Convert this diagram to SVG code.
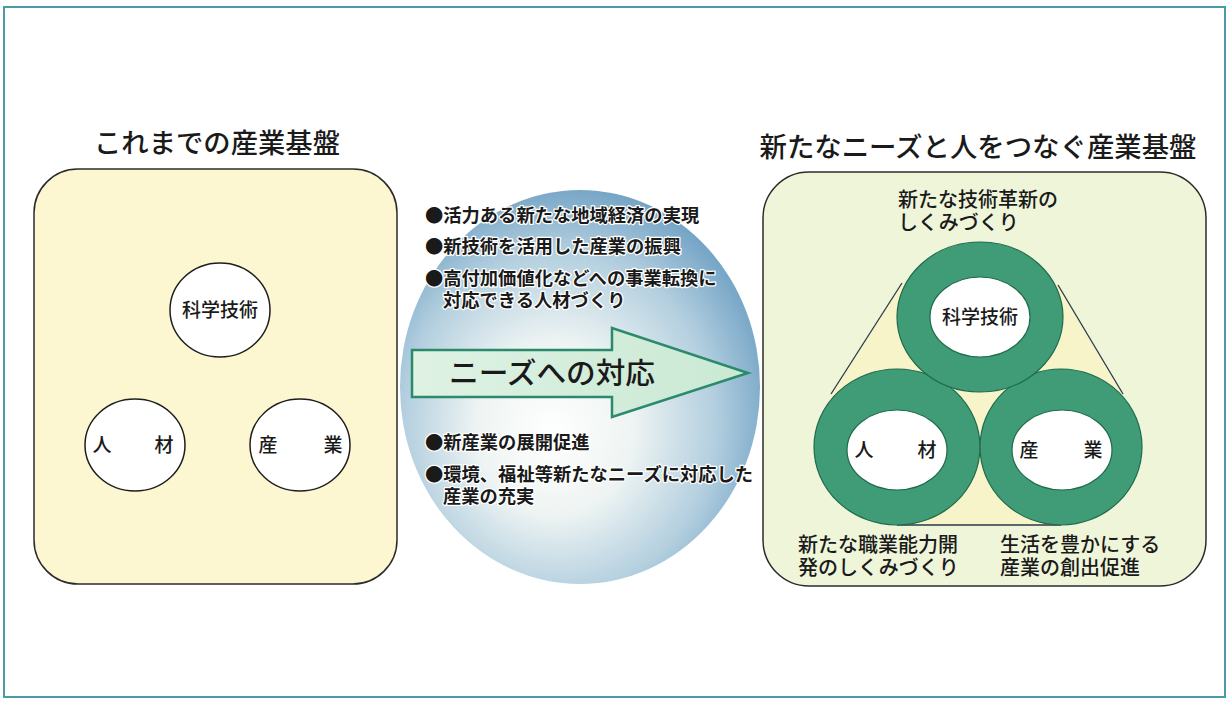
<svg xmlns="http://www.w3.org/2000/svg" width="1230" height="701" viewBox="0 0 1230 701">
<defs>
<radialGradient id="gBall" cx="0.45" cy="0.58" r="0.62" fx="0.42" fy="0.62">
<stop offset="0" stop-color="#ffffff"/>
<stop offset="0.35" stop-color="#eef4f3"/>
<stop offset="0.7" stop-color="#b3cfdf"/>
<stop offset="1" stop-color="#6a9dc2"/>
</radialGradient>
<linearGradient id="gArrow" x1="0" y1="0" x2="1" y2="0">
<stop offset="0" stop-color="#dff2e4"/>
<stop offset="1" stop-color="#c9e9d3"/>
</linearGradient>
<style>
text{font-family:"Noto Sans CJK JP","Noto Sans CJK SC",sans-serif;fill:#1a1a1a}
.title{font-size:27px;font-weight:500}
.lbl{font-size:19px;font-weight:500}
.bul{font-size:18.3px;font-weight:700;stroke:#ffffff;stroke-width:2.5px;paint-order:stroke;stroke-linejoin:round}
.cap{font-size:20px;font-weight:500}
.box{stroke:#2b2b2b;stroke-width:1.5}
.wc{fill:#ffffff;stroke:#1e1e1e;stroke-width:1.5}
.ring{fill:#3f9c76;stroke:#1f6b4c;stroke-width:1.2}
.inner{fill:#ffffff;stroke:#1f6b4c;stroke-width:1.2}
</style>
</defs>
<rect x="0" y="0" width="1230" height="701" fill="#ffffff"/>
<rect x="4" y="7" width="1221" height="690" fill="none" stroke="#4a9aa8" stroke-width="2"/>

<g id="left-panel">
<text class="title" x="217" y="153" text-anchor="middle" textLength="246" lengthAdjust="spacingAndGlyphs">これまでの産業基盤</text>
<rect class="box" x="34" y="169" width="363" height="415" rx="44" fill="#fcf7d0"/>
</g>
<g id="left-kagaku">
<ellipse class="wc" cx="220" cy="310" rx="50" ry="47"/>
<text class="lbl" x="220" y="317" text-anchor="middle">科学技術</text>
</g>
<g id="left-jinzai">
<ellipse class="wc" cx="135" cy="445" rx="50" ry="46"/>
<text class="lbl" x="102" y="452" text-anchor="middle">人</text>
<text class="lbl" x="164" y="452" text-anchor="middle">材</text>
</g>
<g id="left-sangyo">
<ellipse class="wc" cx="300" cy="445" rx="50" ry="46"/>
<text class="lbl" x="268" y="452" text-anchor="middle">産</text>
<text class="lbl" x="333" y="452" text-anchor="middle">業</text>
</g>

<g id="center">
<ellipse cx="580" cy="387" rx="180" ry="197" fill="url(#gBall)"/>
<text class="bul" x="425" y="222">●活力ある新たな地域経済の実現</text>
<text class="bul" x="425" y="253">●新技術を活用した産業の振興</text>
<text class="bul" x="425" y="285">●高付加価値化などへの事業転換に<tspan x="443" dy="22">対応できる人材づくり</tspan></text>
<text class="bul" x="425" y="449">●新産業の展開促進</text>
<text class="bul" x="425" y="481">●環境、福祉等新たなニーズに対応した<tspan x="443" dy="22">産業の充実</tspan></text>
</g>

<g id="connectors">
<polygon points="412,350 612,350 612,328 748,373 612,417 612,397 412,397" fill="url(#gArrow)" stroke="#2b8a6c" stroke-width="2.5" stroke-linejoin="miter"/>
<text x="552" y="384" text-anchor="middle" style="font-size:29px;font-weight:500" textLength="206" lengthAdjust="spacingAndGlyphs">ニーズへの対応</text>
</g>

<g id="right-panel">
<text class="title" x="978" y="157" text-anchor="middle" textLength="437" lengthAdjust="spacingAndGlyphs">新たなニーズと人をつなぐ産業基盤</text>
<rect class="box" x="763" y="172" width="443" height="414" rx="46" fill="#eef5d9"/>
<polygon points="902,283 1058,285 1123,394 1061,525 897,525 831,394" fill="#f7f4c9" stroke="none"/>
<line x1="902" y1="283" x2="831" y2="394" stroke="#2a3a4a" stroke-width="1.3"/>
<line x1="1058" y1="285" x2="1123" y2="394" stroke="#2a3a4a" stroke-width="1.3"/>
<line x1="897" y1="525" x2="1061" y2="525" stroke="#2a3a4a" stroke-width="1.3"/>
<text class="cap" x="898" y="207">新たな技術革新の<tspan x="898" dy="23">しくみづくり</tspan></text>
<text class="cap" x="798" y="552">新たな職業能力開<tspan x="798" dy="23">発のしくみづくり</tspan></text>
<text class="cap" x="1000" y="552">生活を豊かにする<tspan x="1000" dy="23">産業の創出促進</tspan></text>
</g>
<g id="right-jinzai">
<ellipse class="ring" cx="897" cy="447" rx="83" ry="78"/>
<ellipse class="inner" cx="897" cy="450" rx="50" ry="40"/>
<text class="lbl" x="864" y="457" text-anchor="middle">人</text>
<text class="lbl" x="927" y="457" text-anchor="middle">材</text>
</g>
<g id="right-sangyo">
<ellipse class="ring" cx="1061" cy="447" rx="81" ry="78"/>
<ellipse class="inner" cx="1062" cy="450" rx="50" ry="40"/>
<text class="lbl" x="1029" y="457" text-anchor="middle">産</text>
<text class="lbl" x="1093" y="457" text-anchor="middle">業</text>
</g>
<g id="right-kagaku">
<ellipse class="ring" cx="980" cy="317" rx="83" ry="75"/>
<ellipse class="inner" cx="980" cy="317" rx="50" ry="40"/>
<text class="lbl" x="980" y="324" text-anchor="middle">科学技術</text>
</g>
</svg>
